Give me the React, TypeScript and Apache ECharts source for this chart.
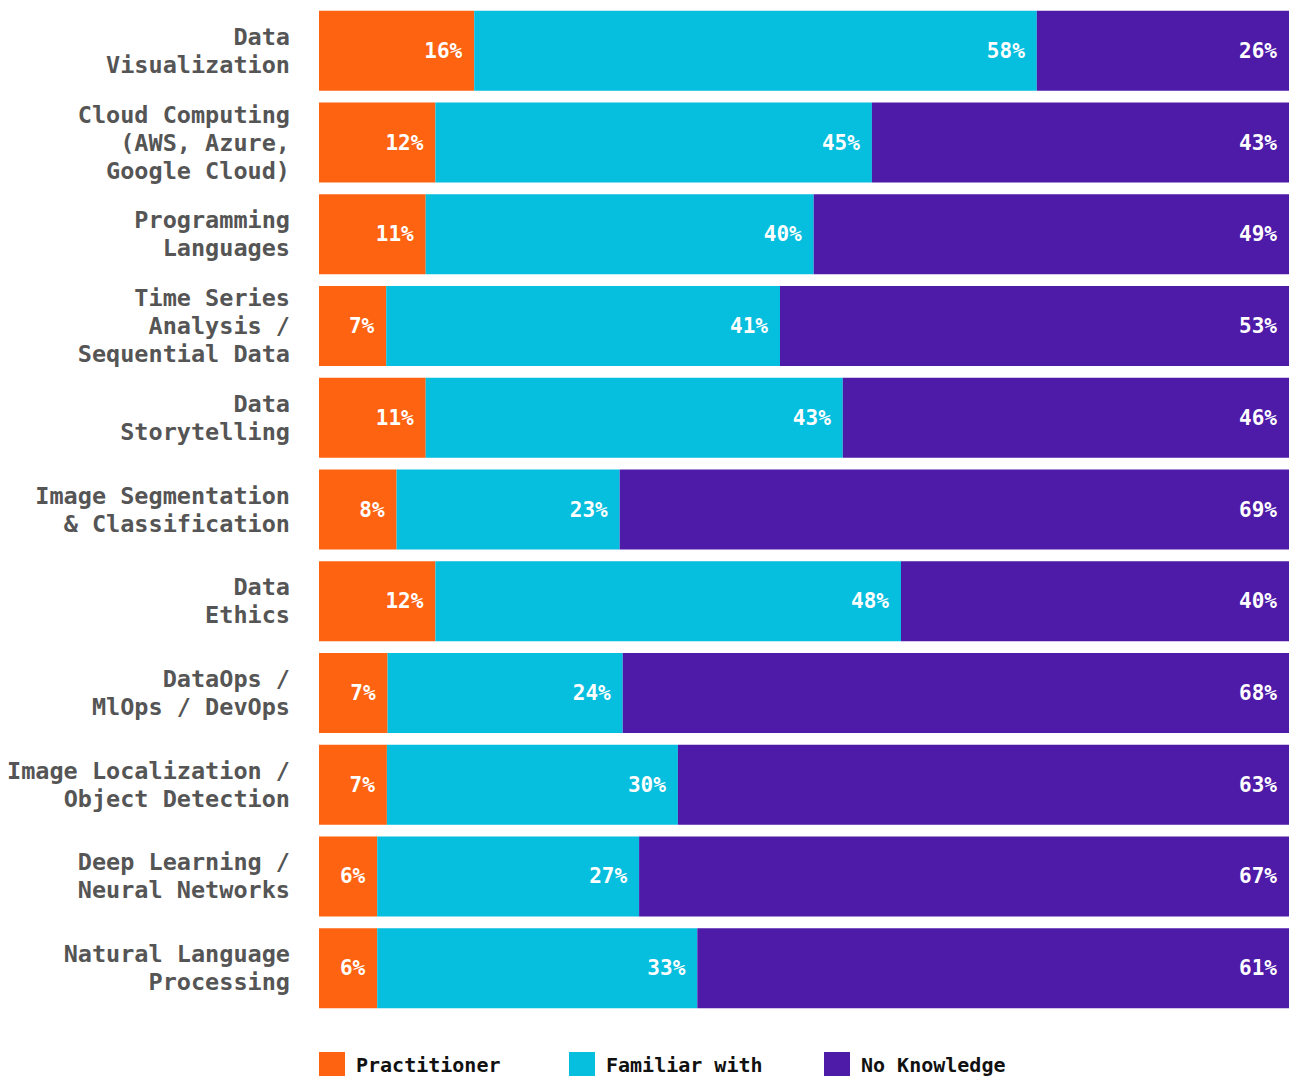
import React, { useEffect, useRef } from "react";
import * as echarts from "echarts";

const categories = [
  "Data\nVisualization",
  "Cloud Computing\n(AWS, Azure,\nGoogle Cloud)",
  "Programming\nLanguages",
  "Time Series\nAnalysis /\nSequential Data",
  "Data\nStorytelling",
  "Image Segmentation\n& Classification",
  "Data\nEthics",
  "DataOps /\nMlOps / DevOps",
  "Image Localization /\nObject Detection",
  "Deep Learning /\nNeural Networks",
  "Natural Language\nProcessing",
];

const practitioner = [16, 12, 11, 7, 11, 8, 12, 7, 7, 6, 6];
const familiar = [58, 45, 40, 41, 43, 23, 48, 24, 30, 27, 33];
const noKnowledge = [26, 43, 49, 53, 46, 69, 40, 68, 63, 67, 61];

const seriesNames = ["Practitioner", "Familiar with", "No Knowledge"];
const colors = ["#FE6311", "#06BEDE", "#4E1AA8"];
const FONT = "'DejaVu Sans Mono', monospace";

export default function App() {
  const ref = useRef<HTMLDivElement>(null);
  useEffect(() => {
    if (!ref.current) return;
    const chart = echarts.init(ref.current, undefined, { renderer: "svg" });
    const raw = [practitioner, familiar, noKnowledge];
    const totals = practitioner.map((_, i) => practitioner[i] + familiar[i] + noKnowledge[i]);
    const series = raw.map((arr, s) => ({
      name: seriesNames[s],
      type: "bar",
      stack: "total",
      barWidth: 80,
      itemStyle: { color: colors[s] },
      label: {
        show: true,
        position: "insideRight",
        distance: 12,
        color: "#ffffff",
        fontFamily: FONT,
        fontWeight: "bold",
        fontSize: 21,
        formatter: (p: any) => `${arr[p.dataIndex]}%`,
      },
      data: arr.map((v, i) => (v / totals[i]) * 100),
    }));
    const legends = seriesNames.map((n, i) => ({
      data: [n],
      left: [319, 569, 824][i],
      top: 1052,
      padding: 0,
      icon: "rect",
      itemWidth: 26,
      itemHeight: 26,
      selectedMode: false,
      textStyle: {
        fontFamily: FONT,
        fontWeight: "bold",
        fontSize: 20,
        color: "#111111",
        padding: [0, 0, 0, 6],
      },
    }));
    chart.setOption({
      animation: false,
      backgroundColor: "#ffffff",
      color: colors,
      legend: legends,
      grid: {
        left: 319,
        right: 0,
        top: 5,
        bottom: 62,
        containLabel: false,
        outerBoundsMode: "none",
      },
      xAxis: { type: "value", min: 0, max: 100, show: false },
      yAxis: {
        type: "category",
        inverse: true,
        data: categories,
        axisLine: { show: false },
        axisTick: { show: false },
        axisLabel: {
          margin: 29,
          color: "#555555",
          fontFamily: FONT,
          fontWeight: "bold",
          fontSize: 23.5,
          lineHeight: 28,
          align: "right",
        },
      },
      series,
    });
    return () => chart.dispose();
  }, []);
  return (
    <div
      ref={ref}
      style={{ position: "absolute", left: 0, top: 0, width: 1289, height: 1076 }}
    />
  );
}
